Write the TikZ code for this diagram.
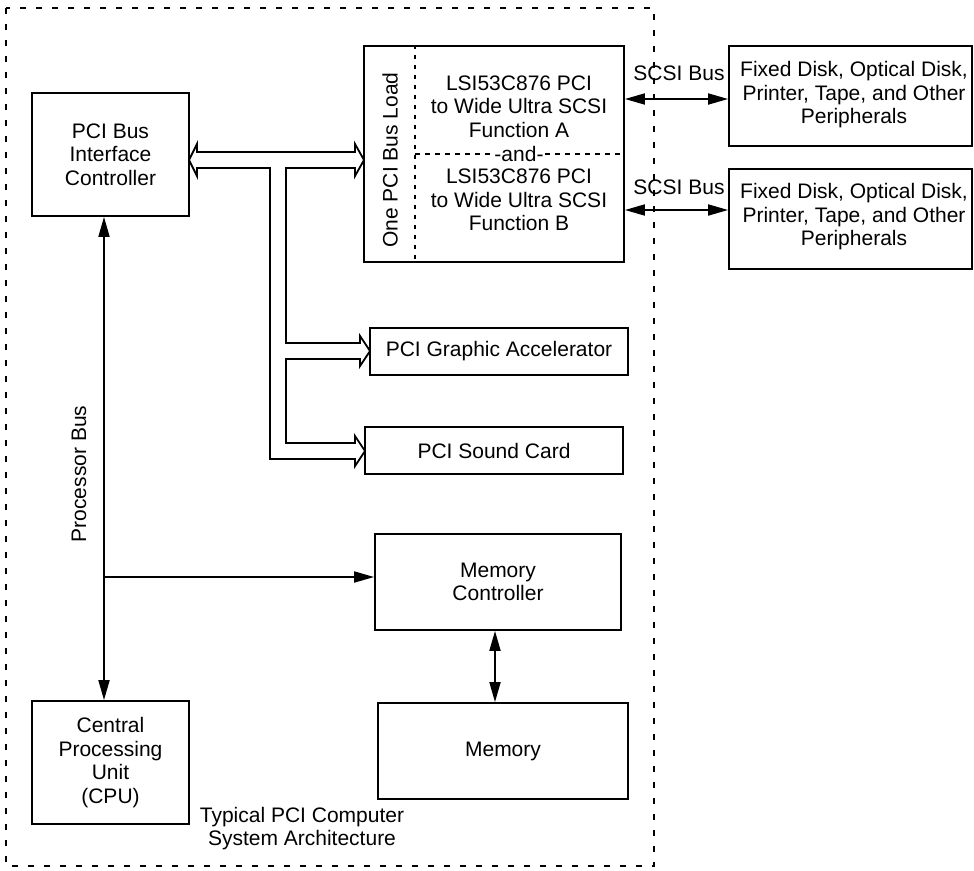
\documentclass[tikz,border=0pt]{standalone}
\usepackage{fontspec}
\setmainfont{Liberation Sans}
\usetikzlibrary{arrows.meta,calc}
\tikzset{
  box/.style={draw, line width=1.8pt, inner sep=0pt, align=center, fill=white},
  txt/.style={inner sep=0pt, align=center},
  arr/.style={line width=1.8pt, arrows={Triangle[length=20pt,width=11pt]-Triangle[length=20pt,width=11pt]}},
  arrone/.style={line width=1.8pt, arrows={-Triangle[length=20pt,width=11pt]}},
  fatbus/.style={draw, line width=1.8pt, fill=white, line join=miter},
  outerdash/.style={line width=2pt, dash pattern=on 6pt off 10pt},
  divdash/.style={line width=1.6pt, dash pattern=on 4pt off 6pt},
}
\begin{document}
\begin{tikzpicture}[x=1pt,y=-1pt,font=\fontsize{21}{23.5}\selectfont]
\useasboundingbox (0,0) rectangle (974,870);
\fill[white] (0,0) rectangle (974,870);

% outer dashed system boundary
\draw[outerdash] (6,8) rectangle (654,866);

% boxes
\node[box, minimum width=157, minimum height=123] (pci) at (110.5,154.5) {PCI Bus\\Interface\\Controller};
\node[box, minimum width=260, minimum height=216] (lsi) at (494,154) {};
\node[box, minimum width=243, minimum height=100] (p1) at (850.5,96) {};
\node[box, minimum width=243, minimum height=100] (p2) at (850.5,219) {};
\node[box, minimum width=258, minimum height=47] (gfx) at (499,351.5) {PCI Graphic Accelerator};
\node[box, minimum width=258, minimum height=47] (snd) at (494,450.5) {PCI Sound Card};
\node[box, minimum width=246, minimum height=96] (mc) at (498,582) {Memory\\Controller};
\node[box, minimum width=250, minimum height=96] (mem) at (503,751) {Memory};
\node[box, minimum width=157, minimum height=123] (cpu) at (110.5,762.5) {Central\\Processing\\Unit\\(CPU)};

% LSI inner structure
\coordinate (dvx) at (415,0);
\coordinate (dvy) at (0,154);
\draw[divdash] (lsi.north -| dvx) -- (lsi.south -| dvx);
\draw[line width=1.6pt, dash pattern=on 5pt off 5pt] (dvx |- dvy) -- (lsi.east |- dvy);
\node[txt, rotate=90] (load) at (390,160) {One PCI Bus Load};
\node[txt] (fa) at (519,106.5) {LSI53C876 PCI\\to Wide Ultra SCSI\\Function A};
\node[txt, fill=white, inner xsep=0pt] (and) at (519,154) {-and-};
\node[txt] (fb) at (519,200) {LSI53C876 PCI\\to Wide Ultra SCSI\\Function B};

% peripheral texts
\node[txt] (p1t) at (854,95) {Fixed Disk, Optical Disk,\\Printer, Tape, and Other\\Peripherals};
\node[txt] (p2t) at (854,217) {Fixed Disk, Optical Disk,\\Printer, Tape, and Other\\Peripherals};

% SCSI buses
\coordinate (s1) at (0,99);
\coordinate (s2) at (0,210);
\draw[arr] (lsi.east |- s1) -- (p1.west |- s1);
\draw[arr] (lsi.east |- s2) -- (p2.west |- s2);
\node[txt] (sb1) at (679,73) {SCSI Bus};
\node[txt] (sb2) at (679,187) {SCSI Bus};

% PCI fat bus
\draw[fatbus] (189,160) -- (197,144) -- (197,152) -- (355,152) -- (355,144) -- (364,160)
  -- (355,176) -- (355,168) -- (286,168) -- (286,343) -- (360,343) -- (360,336) -- (370,351)
  -- (360,366) -- (360,359) -- (286,359) -- (286,443) -- (355,443) -- (355,436) -- (365,451)
  -- (355,466) -- (355,459) -- (270,459) -- (270,168) -- (197,168) -- (197,176) -- cycle;

% processor bus
\coordinate (pb) at (104,0);
\draw[arr] (pci.south -| pb) -- (cpu.north -| pb);
\node[txt, rotate=90] (pbl) at (79,474) {Processor Bus};
\coordinate (mrow) at (0,577);
\draw[arrone] (pb |- mrow) -- (mc.west |- mrow);

% memory link
\coordinate (mx) at (495,0);
\draw[arr] (mc.south -| mx) -- (mem.north -| mx);

% caption
\node[txt] (cap) at (302,828.5) {Typical PCI Computer\\System Architecture};
\end{tikzpicture}
\end{document}
